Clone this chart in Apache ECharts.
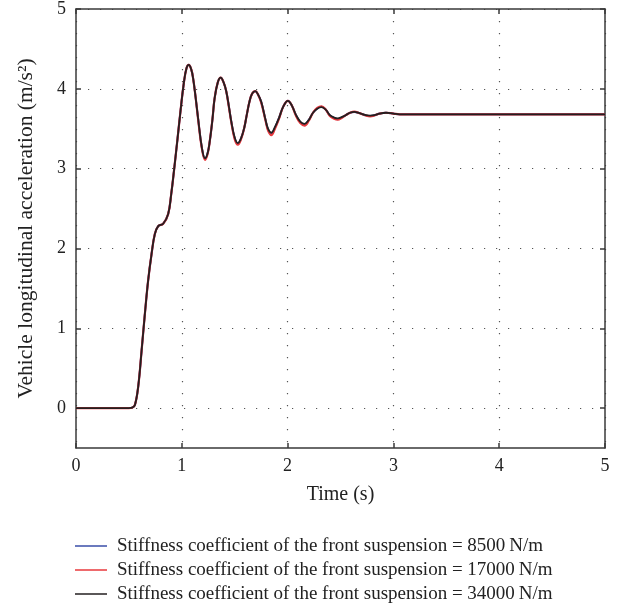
<!DOCTYPE html>
<html>
<head>
<meta charset="utf-8">
<script src="https://cdn.jsdelivr.net/npm/echarts@6/dist/echarts.min.js"></script>
<style>html,body{margin:0;padding:0;background:#fff}#c{width:629px;height:612px}</style>
</head>
<body>
<div id="c"></div>
<script>
var time = [0,0.5,0.53,0.557,0.588,0.62,0.651,0.682,0.714,0.745,0.777,0.824,0.871,0.90,0.93,0.96,0.99,1.02,1.045,1.066,1.09,1.107,1.13,1.154,1.19,1.22,1.245,1.264,1.29,1.31,1.34,1.368,1.395,1.42,1.445,1.468,1.50,1.53,1.56,1.59,1.615,1.64,1.665,1.695,1.72,1.75,1.79,1.815,1.846,1.88,1.92,1.96,2.003,2.04,2.08,2.12,2.16,2.20,2.24,2.28,2.32,2.36,2.40,2.44,2.475,2.51,2.55,2.59,2.63,2.68,2.74,2.78,2.82,2.87,2.93,3.0,3.06,3.2,3.5,4.0,4.5,5.0];
var accel8500 = [0,0,0.005,0.04,0.27,0.72,1.18,1.60,1.93,2.18,2.28,2.31,2.43,2.68,3.02,3.38,3.75,4.08,4.26,4.30,4.24,4.13,3.90,3.63,3.26,3.12,3.20,3.34,3.62,3.88,4.08,4.14,4.08,3.97,3.78,3.59,3.38,3.31,3.38,3.51,3.68,3.84,3.94,3.97,3.93,3.84,3.62,3.49,3.435,3.51,3.64,3.78,3.85,3.79,3.67,3.58,3.55,3.61,3.70,3.755,3.775,3.74,3.665,3.635,3.62,3.64,3.67,3.70,3.71,3.695,3.667,3.66,3.668,3.69,3.70,3.69,3.68,3.68,3.68,3.68,3.68,3.68];
var accel17000 = [0,0,0.005,0.04,0.27,0.72,1.18,1.60,1.93,2.18,2.28,2.31,2.43,2.68,3.02,3.38,3.75,4.08,4.26,4.30,4.24,4.13,3.90,3.62,3.25,3.11,3.19,3.34,3.62,3.88,4.08,4.14,4.08,3.97,3.77,3.58,3.37,3.30,3.37,3.51,3.68,3.84,3.94,3.97,3.93,3.83,3.61,3.48,3.42,3.50,3.63,3.78,3.85,3.79,3.66,3.57,3.54,3.60,3.70,3.76,3.78,3.74,3.66,3.625,3.615,3.635,3.67,3.70,3.715,3.695,3.665,3.655,3.665,3.69,3.70,3.69,3.68,3.68,3.68,3.68,3.68,3.68];
var accel34000 = [0,0,0.005,0.04,0.27,0.72,1.18,1.60,1.93,2.18,2.28,2.31,2.43,2.68,3.02,3.38,3.75,4.08,4.26,4.30,4.24,4.13,3.90,3.63,3.26,3.13,3.20,3.34,3.62,3.88,4.08,4.14,4.08,3.97,3.78,3.59,3.39,3.32,3.38,3.51,3.68,3.84,3.94,3.97,3.93,3.84,3.62,3.50,3.45,3.52,3.64,3.78,3.85,3.79,3.67,3.59,3.56,3.61,3.70,3.75,3.77,3.74,3.67,3.64,3.63,3.645,3.67,3.70,3.71,3.695,3.67,3.665,3.67,3.69,3.70,3.69,3.68,3.68,3.68,3.68,3.68,3.68];
var seriesNames = ['Stiffness coefficient of the front suspension = 8500\u2009N/m','Stiffness coefficient of the front suspension = 17000\u2009N/m','Stiffness coefficient of the front suspension = 34000\u2009N/m'];
var xTicks = [0,1,2,3,4,5];
var yTicks = [0,1,2,3,4,5];

function pairs(ys){ return time.map(function(t,i){ return [t, ys[i]]; }); }

var font = '"Liberation Serif", "DejaVu Serif", serif';
var axisCol = '#3a3a3a';
var grid = {type:[1.2,10.8], color:'#555', width:1.2};
var lineIcon = 'path://M0,0L64,0L64,3L0,3Z';

var chart = echarts.init(document.getElementById('c'), null, {renderer:'canvas'});
chart.setOption({
  animation:false,
  backgroundColor:'#fff',
  textStyle:{fontFamily:font},
  grid:{left:76, right:24, top:7, bottom:164, containLabel:false},
  legend:{
    orient:'vertical', left:75, top:536, padding:0, itemWidth:32, itemHeight:14, itemGap:4,
    textStyle:{fontFamily:font, fontSize:19, color:'#222', lineHeight:20, padding:[0,0,0,5]},
    data:seriesNames.map(function(n){ return {name:n, icon:lineIcon}; })
  },
  xAxis:[{
    type:'value', min:0, max:5, interval:1, position:'bottom',
    name:'Time (s)', nameLocation:'middle', nameGap:37,
    nameTextStyle:{fontFamily:font, fontSize:20, color:'#222'},
    axisLine:{show:true, onZero:false, lineStyle:{color:axisCol, width:1.5}},
    axisTick:{show:true, inside:true, length:5, lineStyle:{color:axisCol, width:1.5}},
    axisLabel:{fontFamily:font, fontSize:18, color:'#222', margin:9},
    splitLine:{show:true, lineStyle:grid}
  },{
    type:'value', min:0, max:5, interval:1, position:'top',
    axisLine:{show:true, onZero:false, lineStyle:{color:axisCol, width:1.5}},
    axisTick:{show:true, inside:true, length:5, lineStyle:{color:axisCol, width:1.5}},
    axisLabel:{show:false}, splitLine:{show:false}
  }],
  yAxis:[{
    type:'value', min:-0.5, max:5, position:'left',
    name:'Vehicle longitudinal acceleration (m/s\u00B2)', nameLocation:'middle', nameGap:39,
    nameTextStyle:{fontFamily:font, fontSize:21.5, color:'#222'},
    axisLine:{show:true, onZero:false, lineStyle:{color:axisCol, width:1.5}},
    axisTick:{show:true, inside:true, length:5, customValues:yTicks, lineStyle:{color:axisCol, width:1.5}},
    axisLabel:{fontFamily:font, fontSize:18, color:'#222', margin:10, customValues:yTicks},
    splitLine:{show:true, lineStyle:grid}
  },{
    type:'value', min:-0.5, max:5, position:'right',
    axisLine:{show:true, onZero:false, lineStyle:{color:axisCol, width:1.5}},
    axisTick:{show:true, inside:true, length:5, customValues:yTicks, lineStyle:{color:axisCol, width:1.5}},
    axisLabel:{show:false}, splitLine:{show:false}
  }],
  series:[
    {name:seriesNames[0], type:'line', data:pairs(accel8500), smooth:0.4, showSymbol:false, symbol:'none', color:'#3a4ea8', lineStyle:{width:2, color:'#3a4ea8'}, z:2},
    {name:seriesNames[1], type:'line', data:pairs(accel17000), smooth:0.4, showSymbol:false, symbol:'none', color:'#e8383d', lineStyle:{width:2.2, color:'#e8383d'}, z:3},
    {name:seriesNames[2], type:'line', data:pairs(accel34000), smooth:0.4, showSymbol:false, symbol:'none', color:'#231f20', lineStyle:{width:1.8, color:'#231f20'}, z:4}
  ]
});
</script>
</body>
</html>
